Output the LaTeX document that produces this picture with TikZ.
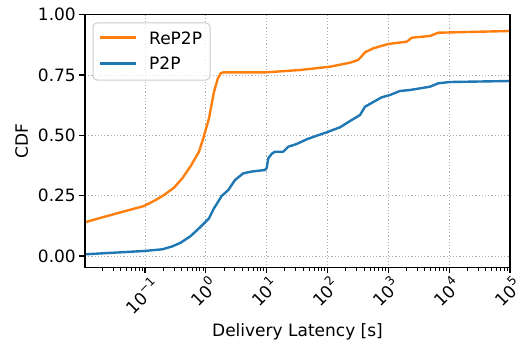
\documentclass[tikz,border=0pt]{standalone}
\usepackage{fontspec}
\setmainfont{DejaVu Sans}
\definecolor{mplorange}{HTML}{FF7F0E}
\definecolor{mplblue}{HTML}{1F77B4}
\definecolor{gridgray}{HTML}{B0B0B0}
\definecolor{legendedge}{HTML}{CCCCCC}
% power-of-ten tick label
\newcommand\tenpow[1]{10\raisebox{0.48em}{\fontsize{12}{12}\selectfont #1}}

\begin{document}
\begin{tikzpicture}[x=1pt,y=-1pt,
  gridline/.style={gridgray, line width=0.8pt, dash pattern=on 1.2pt off 2pt},
  spine/.style={black, line width=1.3pt},
  majortick/.style={black, line width=1.3pt},
  minortick/.style={black, line width=1pt},
  curve/.style={line width=2.4pt, line join=round},
  lbl/.style={font=\fontsize{17}{20}\selectfont, inner sep=0pt},
  legendbox/.style={draw=legendedge, fill=white, fill opacity=0.8, rounded corners=4pt, line width=1pt}
]
\useasboundingbox (0,0) rectangle (521,345);

% grid
\foreach \gx in {145,205.83,266.67,327.5,388.33,449.17}
  \draw[gridline] (\gx,14.67) -- (\gx,267.33);
\foreach \gy in {256,195.67,135.33,75}
  \draw[gridline] (85,\gy) -- (510,\gy);

% P2P
\draw[curve, mplblue] (85,254.3) -- (144,251) -- (162.3,249.3) -- (172,246.5) -- (180.7,242.7)
  -- (190.7,236) -- (200.7,226.7) -- (209,218.3) -- (214,208.3) -- (221.7,196) -- (228.3,190)
  -- (235,180) -- (243.3,173.3) -- (252,171.5) -- (265,170) -- (266.7,168) -- (268.3,158.3)
  -- (272,153.5) -- (275,151.7) -- (283.3,151.7) -- (288.3,146.7) -- (296.7,144) -- (306.7,139.3)
  -- (316.7,135.7) -- (326.7,132.3) -- (340,127.3) -- (351.7,120) -- (360,115) -- (365,106.7)
  -- (381.7,97.3) -- (390,95) -- (400,91) -- (410,90) -- (430,86.7) -- (438.3,83.3) -- (450,82)
  -- (510,81);

% ReP2P
\draw[curve, mplorange] (85,222.3) -- (100,218) -- (120,212.5) -- (144,206) -- (155.7,200)
  -- (164,195) -- (174,187.7) -- (182.3,178.3) -- (190.7,166) -- (199,151.7) -- (203.3,138.3)
  -- (209,118.3) -- (214,91.7) -- (218,78) -- (221,73) -- (224,72.3) -- (266.7,72.3) -- (300,70)
  -- (330,66.7) -- (350,62.7) -- (358,60) -- (361,57) -- (365,52.3) -- (373.3,48.3) -- (388.3,44)
  -- (406.7,41.7) -- (409,40) -- (411.7,37.7) -- (430,36) -- (438.3,32.7) -- (510,31);

% axes frame
\draw[spine] (85,14.67) rectangle (510,267.33);

% y ticks and labels
\foreach \gy/\lab in {256/0.00,195.67/0.25,135.33/0.50,75/0.75,14.67/1.00} {
  \draw[majortick] (85,\gy) -- (79.4,\gy);
  \node[lbl, anchor=east] (ytick\lab) at (76,\gy) {\lab};
}

% x ticks
\foreach \gx in {145,205.83,266.67,327.5,388.33,449.17,510}
  \draw[majortick] (\gx,267.33) -- (\gx,272.9);
\foreach \d in {-2,...,4}
  \foreach \k in {2,...,9}
    \draw[minortick] ({145+60.83*(\d+1+log10(\k))},267.33) -- ++(0,3.3);

% x tick labels
\node[lbl, rotate=45] (xm1) at (141.7,295.7) {\tenpow{−1}};
\node[lbl, rotate=45] (x0) at (203,291.5) {\tenpow{0}};
\node[lbl, rotate=45] (x1) at (263.7,291.5) {\tenpow{1}};
\node[lbl, rotate=45] (x2) at (324.5,291.5) {\tenpow{2}};
\node[lbl, rotate=45] (x3) at (385.3,291.5) {\tenpow{3}};
\node[lbl, rotate=45] (x4) at (446.2,291.5) {\tenpow{4}};
\node[lbl, rotate=45] (x5) at (507,291.5) {\tenpow{5}};

% axis titles
\node[lbl, rotate=90] (ylabel) at (21.7,141) {CDF};
\node[lbl, anchor=base] (xlabel) at (297.5,336.5) {Delivery Latency [s]};

% legend
\draw[legendbox] (93,23) rectangle (210,80);
\coordinate (la1) at (100,37.7);
\coordinate (lb1) at (136,37.7);
\coordinate (la2) at (100,63.3);
\coordinate (lb2) at (136,63.3);
\draw[curve, mplorange] (la1) -- (lb1);
\draw[curve, mplblue] (la2) -- (lb2);
\node[lbl, anchor=west] (leg1) at (149,38.3) {ReP2P};
\node[lbl, anchor=west] (leg2) at (149,63.5) {P2P};
\end{tikzpicture}
\end{document}
